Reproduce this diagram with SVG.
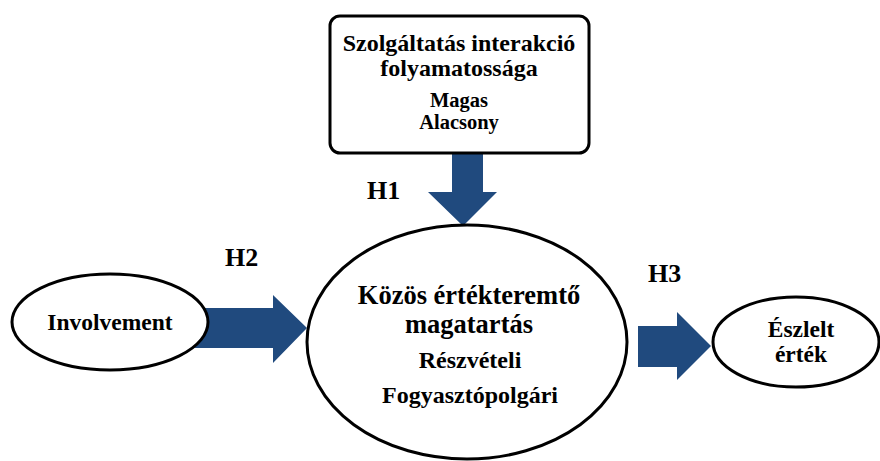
<svg xmlns="http://www.w3.org/2000/svg" width="880" height="461" viewBox="0 0 880 461">
<style>
.node{fill:#fff;stroke:#000;stroke-width:3}
.arr{fill:#204a7e;stroke:none}
text{font-family:"Liberation Serif","Times New Roman",serif;font-weight:bold;fill:#000;text-anchor:middle}
.t24{font-size:24px}
.t20{font-size:20.5px}
.t27{font-size:26.5px}
.tr{font-size:24px}
.t23{font-size:23.5px}
.h{font-size:26px;text-anchor:start}
</style>
<rect width="880" height="461" fill="#fff"/>
<g id="connectors">
<path class="arr" d="M452,152 H483 V192 H497 L463,226 L428,192 H452 Z"/>
<path class="arr" d="M190,308 H273 V295 L307,328 L273,363 V348 H190 Z"/>
<path class="arr" d="M638,326 H677 V312 L711,346 L677,380 V367 H638 Z"/>
<text class="h" x="367" y="199">H1</text>
<text class="h" x="225" y="266">H2</text>
<text class="h" x="648" y="282">H3</text>
</g>
<g id="szolgaltatas">
<rect class="node" x="330" y="16" width="259" height="137" rx="10"/>
<text class="t24" x="459" y="51">Szolgáltatás interakció</text>
<text class="t24" x="459" y="76">folyamatossága</text>
<text class="t20" x="459" y="107">Magas</text>
<text class="t20" x="459" y="129">Alacsony</text>
</g>
<g id="kozos">
<ellipse class="node" cx="467" cy="342" rx="160" ry="117"/>
<text class="t27" x="469" y="304">Közös értékteremtő</text>
<text class="t27" x="469" y="333">magatartás</text>
<text class="tr" x="470" y="368">Részvételi</text>
<text class="tr" x="470" y="403">Fogyasztópolgári</text>
</g>
<g id="involvement">
<ellipse class="node" cx="110" cy="322" rx="98" ry="48"/>
<text class="t23" x="110" y="330">Involvement</text>
</g>
<g id="eszlelt">
<ellipse class="node" cx="796" cy="342" rx="83" ry="45"/>
<text class="t23" x="801" y="337">Észlelt</text>
<text class="t23" x="801" y="362">érték</text>
</g>
</svg>
